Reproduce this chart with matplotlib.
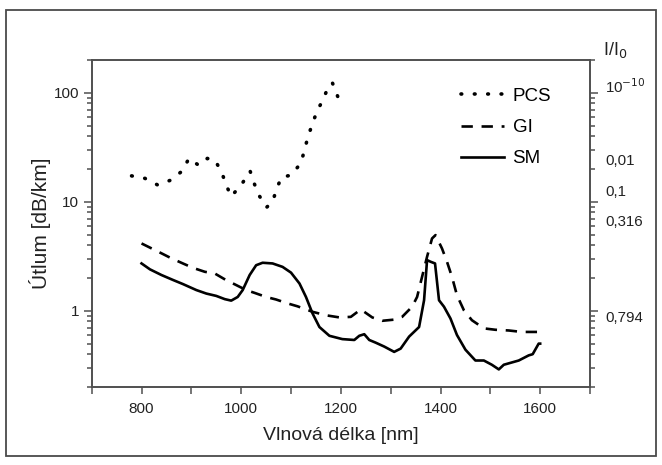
import matplotlib
matplotlib.use("Agg")
import matplotlib.pyplot as plt
from matplotlib.patches import Rectangle
from matplotlib.ticker import NullFormatter, FixedLocator, LogLocator

plt.rcParams['font.family'] = ['Liberation Sans', 'DejaVu Sans']

# ---- data ----
pcs_x = [780, 807, 832, 857, 882, 895, 915, 932, 947, 961, 970, 980, 1001, 1018,
         1025, 1035, 1051, 1063, 1071, 1081, 1100, 1120, 1134, 1143, 1153, 1165,
         1174, 1183, 1194]
pcs_y = [17.3, 16.4, 14.3, 15.7, 19.2, 25.0, 21.6, 25.0, 24.3, 18.6, 14.2, 11.2,
         14.5, 19.1, 15.2, 11.6, 8.9, 10.0, 13.1, 16.9, 17.5, 22.7, 39.4, 52.2,
         69.2, 87.4, 112, 123.6, 91.8]

gi_x = [800, 840, 860, 883, 903, 927, 947, 970, 987, 1010, 1027, 1050, 1070, 1093,
        1113, 1143, 1170, 1197, 1220, 1240, 1263, 1283, 1307, 1323, 1343, 1353,
        1363, 1373, 1383, 1390, 1403, 1413, 1423, 1433, 1447, 1463, 1487, 1510,
        1537, 1563, 1587, 1600]
gi_y = [4.15, 3.37, 3.03, 2.72, 2.48, 2.28, 2.20, 1.91, 1.75, 1.55, 1.46, 1.34,
        1.27, 1.17, 1.10, 0.98, 0.91, 0.87, 0.88, 1.03, 0.87, 0.81, 0.83, 0.88,
        1.09, 1.34, 2.05, 3.13, 4.61, 4.95, 3.73, 2.82, 2.05, 1.39, 1.01, 0.82,
        0.69, 0.67, 0.66, 0.64, 0.64, 0.64]

sm_x = [800, 817, 840, 863, 883, 910, 930, 950, 967, 980, 993, 1003, 1017, 1030,
        1043, 1063, 1083, 1100, 1117, 1130, 1143, 1157, 1177, 1203, 1227, 1237,
        1247, 1257, 1270, 1287, 1307, 1320, 1337, 1357, 1367, 1373, 1380, 1389,
        1397, 1407, 1420, 1433, 1450, 1470, 1487, 1503, 1517, 1527, 1557, 1577,
        1585, 1597, 1600]
sm_y = [2.72, 2.40, 2.13, 1.92, 1.76, 1.55, 1.44, 1.37, 1.28, 1.24, 1.34, 1.55,
        2.13, 2.62, 2.76, 2.72, 2.53, 2.24, 1.78, 1.34, 0.95, 0.71, 0.59, 0.55,
        0.54, 0.59, 0.61, 0.54, 0.51, 0.47, 0.42, 0.45, 0.58, 0.71, 1.25, 2.92,
        2.82, 2.72, 1.25, 1.09, 0.85, 0.60, 0.44, 0.35, 0.35, 0.32, 0.29, 0.32,
        0.35, 0.39, 0.40, 0.50, 0.50]

series_labels = ["PCS", "GI", "SM"]

x_major = [800, 1000, 1200, 1400, 1600]
x_minor = [700, 900, 1100, 1300, 1500, 1700]
y_major = [1, 10, 100]
y_major_labels = ["1", "10", "100"]

right_label_pos = [118, 24.7, 12.8, 6.8, 0.89]
right_labels = ["10$^{-10}$", "0,01", "0,1", "0,316", "0,794"]

# ---- figure ----
fig = plt.figure(figsize=(6.62, 4.65), dpi=100)
fig.patches.append(Rectangle((6 / 662, 1 - 456 / 465), 650 / 662, 446 / 465,
                             transform=fig.transFigure, fill=False,
                             edgecolor='#4a4a4a', linewidth=1.3))

ax = fig.add_axes([91.7 / 662, 1 - 387 / 465, (590 - 91.7) / 662, (387 - 60) / 465])

l1, = ax.plot(pcs_x, pcs_y, color='black', lw=2.6, linestyle=(0, (0.2, 3.5)),
              dash_capstyle='round')
l2, = ax.plot(gi_x, gi_y, color='black', lw=1.9, linestyle=(0, (4.3, 3.3)))
l3, = ax.plot(sm_x, sm_y, color='black', lw=1.9)

ax.set_yscale('log')
ax.set_xlim(700, 1700)
ax.set_ylim(0.2, 200)

ax.xaxis.set_major_locator(FixedLocator(x_major))
ax.xaxis.set_minor_locator(FixedLocator(x_minor))
ax.set_xticklabels([str(v) for v in x_major])
ax.yaxis.set_major_locator(FixedLocator(y_major))
ax.set_yticklabels(y_major_labels)
ax.yaxis.set_minor_locator(LogLocator(base=10, subs=range(2, 10)))
ax.yaxis.set_minor_formatter(NullFormatter())

spine_col = '#505050'
for s in ax.spines.values():
    s.set_color(spine_col)
    s.set_linewidth(1.4)

# right labels (twin axis only carries text labels)
ax2 = ax.twinx()
ax2.set_yscale('log')
ax2.set_ylim(0.2, 200)
ax2.yaxis.set_major_locator(FixedLocator(right_label_pos))
ax2.set_yticklabels(right_labels)
ax2.yaxis.set_minor_locator(FixedLocator([]))
ax2.tick_params(axis='y', which='both', length=0, pad=11, labelsize=10.8,
                labelcolor='#222222')
for s in ax2.spines.values():
    s.set_visible(False)

ax.yaxis.set_ticks_position('both')
ax.tick_params(axis='both', which='both', direction='out', colors=spine_col,
               labelcolor='#222222', width=1.1)
ax.tick_params(axis='x', which='both', length=5, pad=6, labelsize=11, top=False)
ax.tick_params(axis='y', which='major', length=6, pad=3, labelsize=11,
               left=True, right=True, labelright=False)
ax.tick_params(axis='y', which='minor', length=3.5, left=True, right=True)

ax.set_xlabel("Vlnová délka [nm]", fontsize=14, color='#222222', labelpad=8)
ax.set_ylabel("Útlum [dB/km]", fontsize=15, color='#222222', labelpad=2)

ax.text(1.05, 1.0, "I/I$_0$", transform=ax.transAxes, fontsize=13,
        color='#222222', ha='center', va='bottom')

ax.legend([l1, l2, l3], series_labels, loc='upper left',
          bbox_to_anchor=(0.741, 0.915), frameon=False, fontsize=13.5,
          handlelength=2.3, handletextpad=0.45, labelspacing=0.75,
          borderpad=0, borderaxespad=0)

fig.savefig("out.png", dpi=100)
